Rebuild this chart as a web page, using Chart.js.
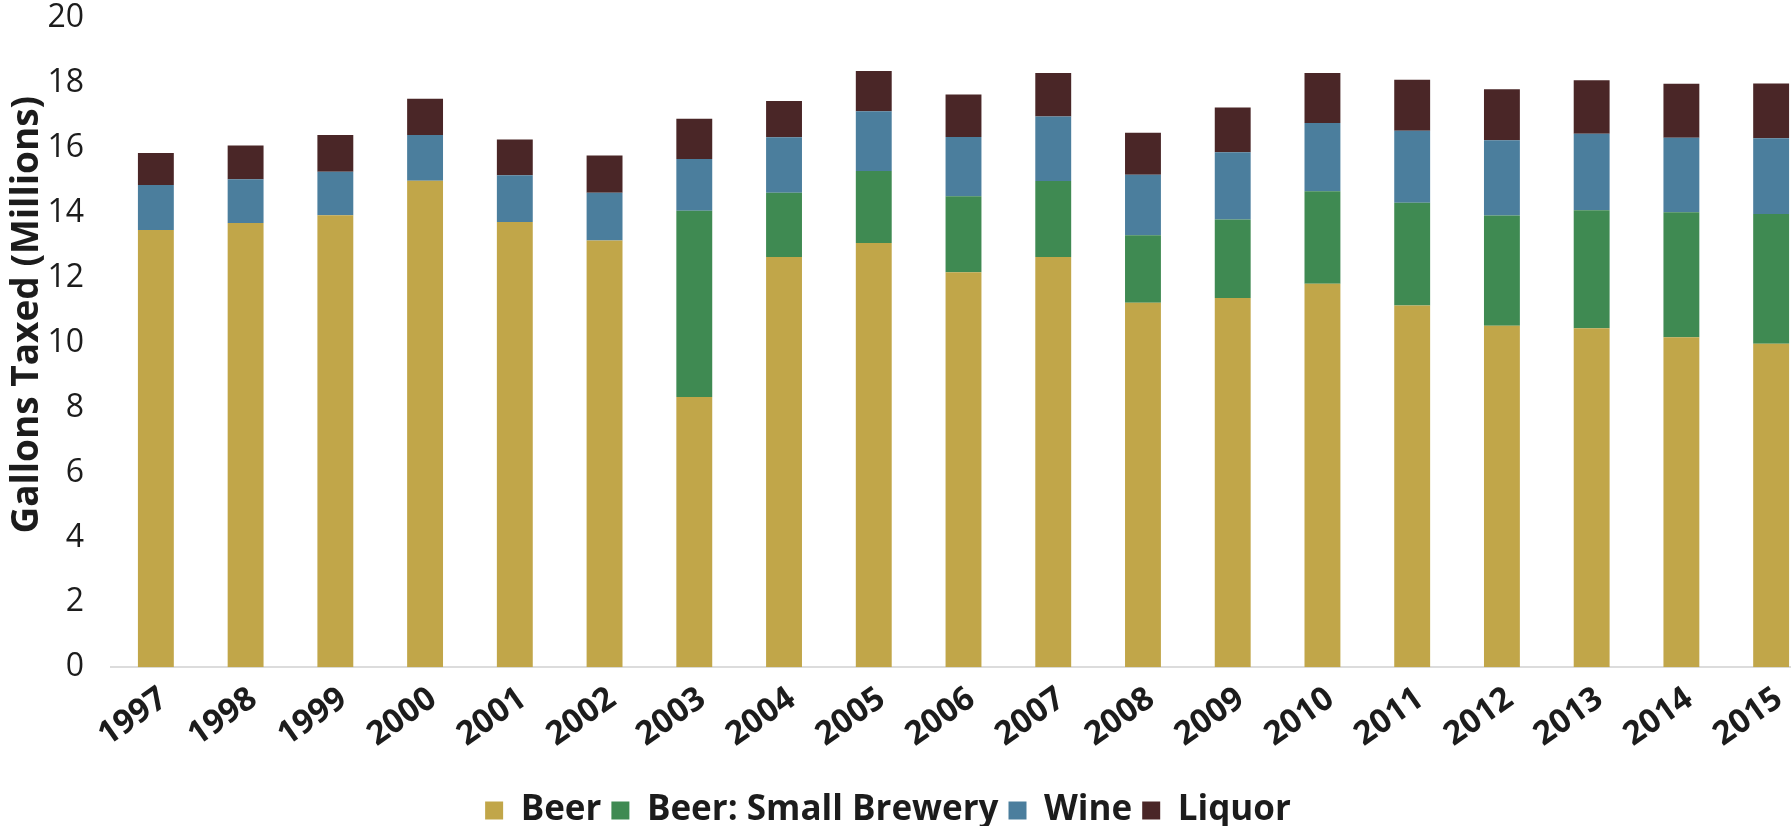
<!DOCTYPE html>
<html><head><meta charset="utf-8">
<script src="https://cdn.jsdelivr.net/npm/chart.js@4.4.1/dist/chart.umd.min.js"></script>
<style>
html,body{margin:0;padding:0;background:#fff;overflow:hidden}
#frame{position:relative;width:1791px;height:826px;overflow:hidden}
#wrap{position:absolute;left:0;top:-28px;width:1816px;height:854px}
</style>
</head><body>
<div id="frame"><div id="wrap"><canvas id="c"></canvas></div></div>
<script>
const years = ['1997','1998','1999','2000','2001','2002','2003','2004','2005','2006','2007','2008','2009','2010','2011','2012','2013','2014','2015'];
const beer = [13.47,13.69,13.93,14.99,13.72,13.15,8.33,12.64,13.07,12.17,12.64,11.23,11.38,11.82,11.15,10.52,10.45,10.17,9.97];
const smallBrewery = [0,0,0,0,0,0,5.74,1.98,2.22,2.34,2.34,2.08,2.42,2.85,3.16,3.40,3.63,3.85,4.00];
const wine = [1.39,1.35,1.34,1.41,1.44,1.47,1.59,1.71,1.84,1.83,1.99,1.87,2.07,2.10,2.22,2.32,2.36,2.30,2.33];
const liquor = [0.99,1.04,1.13,1.12,1.10,1.15,1.24,1.12,1.24,1.31,1.34,1.29,1.38,1.54,1.57,1.57,1.65,1.66,1.69];
const yTicks = [0,2,4,6,8,10,12,14,16,18,20];
const yTitle = 'Gallons Taxed (Millions)';

const seriesNames = ['Beer','Beer: Small Brewery','Wine','Liquor'];
const seriesColors = ['#C1A649','#3F8A52','#4B7E9D','#4A2627'];
const seriesData = [beer, smallBrewery, wine, liquor];

Chart.defaults.font.family = "'Open Sans', sans-serif";
const ink = '#1c1c1c';

// draws the y-axis title beside the tick labels
const yTitlePlugin = {
  id: 'yTitlePlugin',
  afterDraw(chart) {
    const ctx = chart.ctx;
    const a = chart.chartArea;
    ctx.save();
    ctx.translate(27, (a.top + a.bottom) / 2 - 28);
    ctx.rotate(-Math.PI / 2);
    ctx.font = "bold 37px 'Open Sans', sans-serif";
    ctx.fillStyle = ink;
    ctx.textAlign = 'center';
    ctx.textBaseline = 'middle';
    ctx.fillText(yTitle, 0, 0);
    ctx.restore();
  }
};
// nudges the legend block to the reference position
const legendShift = {
  id: 'legendShift',
  afterLayout(chart) {
    const lg = chart.legend;
    if (!lg) return;
    const dx = -20, dy = 16;
    lg.left += dx; lg.right += dx; lg.top += dy; lg.bottom += dy;
  }
};

new Chart(document.getElementById('c'), {
  type: 'bar',
  data: {
    labels: years,
    datasets: seriesNames.map((n, i) => ({
      label: n,
      data: seriesData[i],
      backgroundColor: seriesColors[i],
      borderWidth: 0,
      categoryPercentage: 1,
      barPercentage: 0.4
    }))
  },
  plugins: [yTitlePlugin, legendShift],
  options: {
    responsive: true,
    maintainAspectRatio: false,
    animation: false,
    layout: { padding: { left: 0, right: 0, top: 0, bottom: 4 } },
    plugins: {
      legend: {
        position: 'bottom',
        labels: { boxWidth: 18, boxHeight: 18, padding: 10, color: ink,
                  font: { size: 35, weight: 'bold' } }
      },
      tooltip: { enabled: false }
    },
    scales: {
      x: {
        stacked: true,
        grid: { display: false, drawTicks: false },
        border: { display: true, color: '#dcdcdc', width: 2, dash: [5, 4] },
        ticks: { minRotation: 35, maxRotation: 35, padding: 12, labelOffset: 8, color: ink,
                 font: { size: 33, weight: 'bold' } }
      },
      y: {
        stacked: true,
        min: 0, max: 20,
        afterBuildTicks: (s) => { s.ticks = yTicks.map(v => ({ value: v })); },
        afterFit: (s) => { s.width = 111; },
        grid: { display: false, drawTicks: false },
        border: { display: false },
        ticks: { padding: 27, color: ink, font: { size: 32 } },
        title: { display: false }
      }
    }
  }
});
</script>
</body></html>
